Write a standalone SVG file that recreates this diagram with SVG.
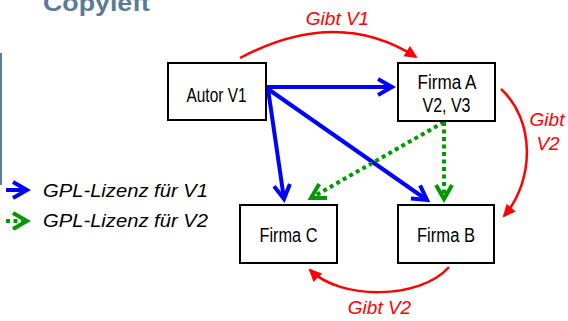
<svg xmlns="http://www.w3.org/2000/svg" width="568" height="321" viewBox="0 0 568 321">
<style>
  .box { fill: #ffffff; stroke: #000000; stroke-width: 2; }
  .lbl { font-family: "Liberation Sans", Arial, sans-serif; font-size: 20px; fill: #000000; text-anchor: middle; }
  .red { font-family: "Liberation Sans", Arial, sans-serif; font-size: 19px; font-style: italic; fill: #ff0000; text-anchor: middle; }
  .leg { font-family: "Liberation Sans", Arial, sans-serif; font-size: 18px; font-style: italic; fill: #000000; }
  .blue { fill: none; stroke: #0000ff; stroke-width: 4; }
  .green { fill: none; stroke: #009900; stroke-width: 4; stroke-dasharray: 4 3.5; }
  .redc { fill: none; stroke: #ff0000; stroke-width: 2.5; }
</style>
<defs>
  <marker id="mb" markerUnits="userSpaceOnUse" viewBox="-20 -12 24 24" markerWidth="24" markerHeight="24" refX="0" refY="0" orient="auto">
    <path d="M-14,-8 L0,0 L-14,8" fill="none" stroke="#0000ff" stroke-width="4" stroke-linejoin="miter"/>
  </marker>
  <marker id="mg" markerUnits="userSpaceOnUse" viewBox="-20 -12 24 24" markerWidth="24" markerHeight="24" refX="0" refY="0" orient="auto">
    <path d="M-14,-8 L0,0 L-14,8" fill="none" stroke="#009900" stroke-width="4" stroke-linejoin="miter"/>
  </marker>
  <marker id="mr" markerUnits="userSpaceOnUse" viewBox="-14 -8 18 16" markerWidth="18" markerHeight="16" refX="0" refY="0" orient="auto">
    <path d="M-11,-6 L2,0 L-11,6 Z" fill="#ff0000"/>
  </marker>
</defs>

<g id="title">
  <text x="43" y="11" textLength="107" lengthAdjust="spacingAndGlyphs" style="font-family:'Liberation Sans',Arial,sans-serif;font-size:24px;font-weight:bold;fill:#5b7a95">Copyleft</text>
  <rect x="0" y="53" width="2" height="132" fill="#5e7e99"/>
</g>

<g id="connectors">
  <path class="blue" d="M266,87 L392,87" marker-end="url(#mb)"/>
  <path class="blue" d="M268,89 L284,199" marker-end="url(#mb)"/>
  <path class="blue" d="M268,89 L427,200" marker-end="url(#mb)"/>
  <path class="green" d="M444,122 L311,198" marker-end="url(#mg)"/>
  <path class="green" d="M444,122 L444,199" marker-end="url(#mg)"/>
  <path class="redc" d="M240,58 Q337,6.5 416,57" marker-end="url(#mr)"/>
  <path class="redc" d="M501,89 C535,120 535,180 504,216" marker-end="url(#mr)"/>
  <path class="redc" d="M449,267 C420,300 340,300 310,270" marker-end="url(#mr)"/>
</g>

<g id="labels">
  <text class="red" x="337.5" y="25">Gibt V1</text>
  <text class="red" x="547" y="126">Gibt</text>
  <text class="red" x="548" y="150">V2</text>
  <text class="red" x="379.5" y="314">Gibt V2</text>
</g>

<g id="autor">
  <rect class="box" x="168" y="63" width="98" height="57"/>
  <text class="lbl" x="216.5" y="101.5" textLength="60" lengthAdjust="spacingAndGlyphs">Autor V1</text>
</g>
<g id="firmaA">
  <rect class="box" x="398" y="63" width="97" height="58"/>
  <text class="lbl" x="447" y="88.5" textLength="59" lengthAdjust="spacingAndGlyphs">Firma A</text>
  <text class="lbl" x="446.5" y="111.5" textLength="48" lengthAdjust="spacingAndGlyphs">V2, V3</text>
</g>
<g id="firmaC">
  <rect class="box" x="240" y="205" width="97" height="58"/>
  <text class="lbl" x="288.5" y="241.5" textLength="58" lengthAdjust="spacingAndGlyphs">Firma C</text>
</g>
<g id="firmaB">
  <rect class="box" x="398" y="205" width="96" height="58"/>
  <text class="lbl" x="446" y="241.5" textLength="58" lengthAdjust="spacingAndGlyphs">Firma B</text>
</g>

<g id="legend">
  <path class="blue" d="M6,190 L27,190" marker-end="url(#mb)"/>
  <text class="leg" x="43" y="197" textLength="165" lengthAdjust="spacingAndGlyphs">GPL-Lizenz für V1</text>
  <path class="green" d="M6,221 L27,221" marker-end="url(#mg)"/>
  <text class="leg" x="43" y="227" textLength="165" lengthAdjust="spacingAndGlyphs">GPL-Lizenz für V2</text>
</g>
</svg>
